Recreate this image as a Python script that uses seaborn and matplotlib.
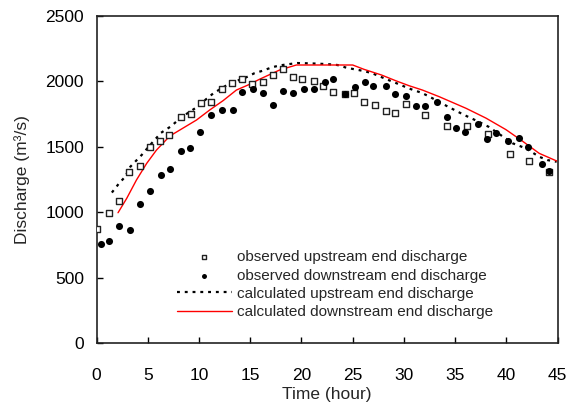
import matplotlib
matplotlib.use("Agg")
import matplotlib.pyplot as plt
import seaborn as sns

sns.set_style("ticks")
plt.rcParams["font.family"] = ["Liberation Sans", "DejaVu Sans"]

# observed upstream end discharge (squares)
obs_up_t = [0, 1.2, 2.2, 3.2, 4.2, 5.2, 6.2, 7.1, 8.2, 9.2, 10.2, 11.2, 12.2, 13.2, 14.2,
            15.2, 16.2, 17.2, 18.2, 19.2, 20.1, 21.2, 22.1, 23.1, 24.2, 25.1, 26.1, 27.2,
            28.2, 29.1, 30.2, 32.1, 34.2, 36.2, 38.2, 40.3, 42.2, 44.2]
obs_up_q = [870, 992, 1083, 1309, 1352, 1497, 1545, 1587, 1724, 1749, 1835, 1838, 1940, 1986, 2018,
            1978, 1996, 2044, 2090, 2029, 2018, 1998, 1963, 1918, 1905, 1913, 1838, 1815,
            1772, 1760, 1828, 1738, 1658, 1660, 1595, 1444, 1391, 1306]

# observed downstream end discharge (circles)
obs_dn_t = [0.4, 1.2, 2.2, 3.3, 4.2, 5.2, 6.3, 7.2, 8.2, 9.1, 10.1, 11.2, 12.2, 13.3, 14.2,
            15.3, 16.2, 17.2, 18.2, 19.2, 20.2, 21.2, 22.3, 23.1, 24.2, 25.2, 26.2, 27.0,
            28.2, 29.1, 30.2, 31.2, 32.1, 33.2, 34.2, 35.1, 36.0, 37.2, 38.1, 39.0, 40.2,
            41.2, 42.1, 43.5, 44.2]
obs_dn_q = [756, 779, 892, 867, 1060, 1162, 1284, 1332, 1467, 1487, 1614, 1738, 1780, 1780, 1916,
            1940, 1907, 1816, 1927, 1907, 1940, 1940, 1996, 2018, 1900, 1953, 1996, 1963,
            1963, 1900, 1885, 1807, 1807, 1837, 1729, 1646, 1614, 1670, 1556, 1602, 1545,
            1568, 1500, 1365, 1315]

# calculated upstream end discharge (dotted)
calc_up_t = [1.5, 2.2, 2.8, 3.3, 4.4, 5.2, 6.3, 7.3, 8.2, 9.7, 10.6, 11.4, 13.0, 14.5, 15.4,
             16.2, 17.1, 17.9, 18.8, 19.6, 21.0, 22.5, 23.5, 24.4, 25.2, 26.1, 26.9, 27.7,
             28.5, 29.3, 30.1, 30.9, 31.7, 32.5, 34.3, 35.9, 37.3, 38.3, 40.6, 41.9, 43.2,
             44.0, 44.9]
calc_up_q = [1150, 1220, 1271, 1347, 1436, 1510, 1606, 1657, 1720, 1797, 1856, 1907, 1983, 2025, 2060,
             2079, 2105, 2120, 2130, 2138, 2135, 2130, 2123, 2102, 2090, 2077, 2060, 2034,
             2008, 1983, 1957, 1932, 1912, 1881, 1805, 1741, 1690, 1650, 1526, 1487, 1423,
             1398, 1385]

# calculated downstream end discharge (red)
calc_dn_t = [2.1, 2.95, 3.9, 4.9, 5.85, 7.15, 8.3, 9.75, 11.05, 12.35, 13.65, 14.95, 15.9,
             17.87, 19.5, 25.0, 26.1, 27.8, 29.2, 30.5, 31.8, 33.45, 36.05, 38.0, 39.95,
             41.55, 43.2, 44.9]
calc_dn_q = [996, 1106, 1246, 1373, 1474, 1581, 1635, 1703, 1780, 1851, 1932, 1976, 2014,
             2085, 2123, 2123, 2090, 2047, 2003, 1965, 1932, 1881, 1793, 1718, 1630,
             1543, 1449, 1391]

fig = plt.figure(figsize=(5.69, 4.09), dpi=100)
ax = fig.add_axes([0.1696, 0.1606, 0.8105, 0.8013])

sns.scatterplot(x=obs_up_t, y=obs_up_q, ax=ax, marker="s", s=20, facecolor="white",
                edgecolor="#222222", linewidth=1.0, label="observed upstream end discharge",
                zorder=3)
sns.scatterplot(x=obs_dn_t, y=obs_dn_q, ax=ax, marker="o", s=26, color="black",
                edgecolor="black", linewidth=0, label="observed downstream end discharge",
                zorder=3)
sns.lineplot(x=calc_up_t, y=calc_up_q, ax=ax, color="black", lw=1.6, linestyle=(0, (1.3, 2.2)),
             estimator=None, sort=False, label="calculated upstream end discharge", zorder=2)
sns.lineplot(x=calc_dn_t, y=calc_dn_q, ax=ax, color="#ff0000", lw=1.0,
             estimator=None, sort=False, label="calculated downstream end discharge", zorder=2)

ax.set_xlim(0, 45)
ax.set_ylim(0, 2500)
ax.set_xticks(range(0, 46, 5))
ax.set_yticks(range(0, 2501, 500))
ax.tick_params(direction="in", length=4, width=1, labelsize=12.5, colors="black")
ax.tick_params(axis="x", pad=18)
ax.tick_params(axis="y", pad=9)
for sp in ax.spines.values():
    sp.set_visible(True)
    sp.set_linewidth(1.2)
    sp.set_color("#222222")
ax.set_xlabel("Time (hour)", fontsize=12.5, labelpad=3)
ax.set_ylabel("Discharge (m³/s)", fontsize=12.5, labelpad=11)

ax.legend(loc="upper left", bbox_to_anchor=(0.174, 0.284), frameon=False, fontsize=11,
          handlelength=3.6, handletextpad=0.33, labelspacing=0.28, markerscale=0.7,
          borderpad=0, borderaxespad=0)

fig.savefig("out.png", dpi=100)
